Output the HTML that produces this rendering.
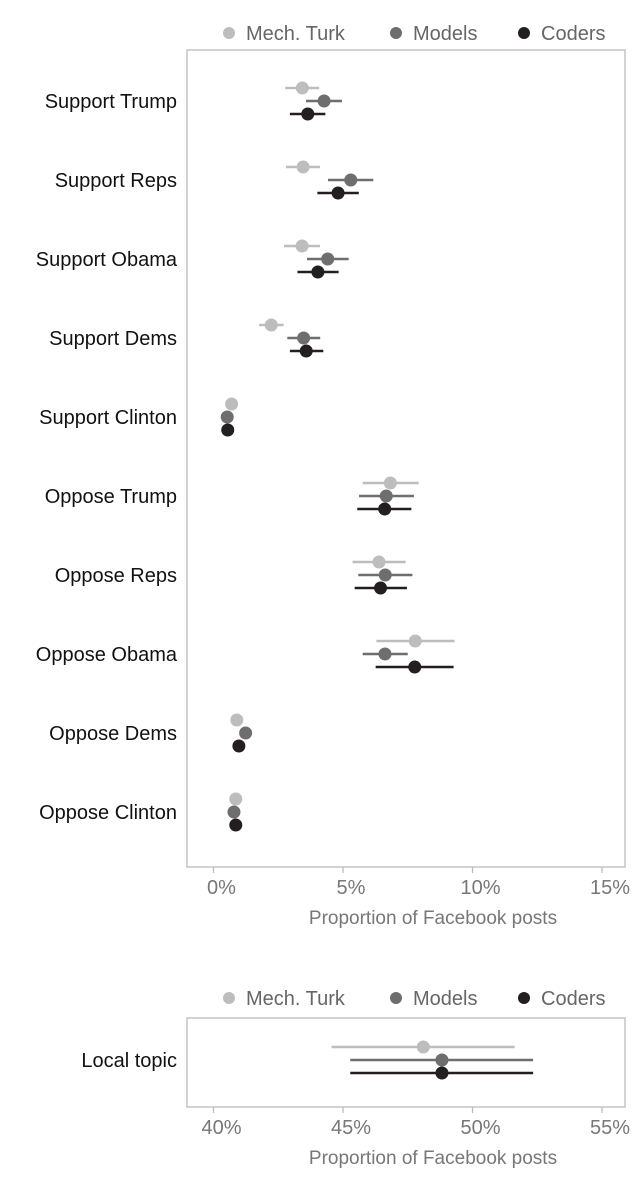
<!DOCTYPE html>
<html><head><meta charset="utf-8"><style>
html,body{margin:0;padding:0;background:#fff;}
svg text{font-family:"Liberation Sans",sans-serif;}
</style></head><body>
<svg id="svg" width="640" height="1182" viewBox="0 0 640 1182" xmlns="http://www.w3.org/2000/svg"></svg>
<script>
const categories=["Support Trump","Support Reps","Support Obama","Support Dems","Support Clinton","Oppose Trump","Oppose Reps","Oppose Obama","Oppose Dems","Oppose Clinton"];
const seriesNames=["Mech. Turk","Models","Coders"];
const turkVal=[3.43,3.46,3.42,2.23,0.70,6.83,6.39,7.79,0.90,0.86];
const turkLo=[2.77,2.80,2.72,1.76,0.70,5.76,5.37,6.29,0.90,0.86];
const turkHi=[4.08,4.11,4.11,2.71,0.70,7.92,7.42,9.31,0.90,0.86];
const modelVal=[4.27,5.30,4.41,3.48,0.53,6.67,6.63,6.62,1.24,0.79];
const modelLo=[3.57,4.42,3.61,2.85,0.53,5.62,5.59,5.76,1.24,0.79];
const modelHi=[4.96,6.17,5.22,4.12,0.53,7.74,7.68,7.50,1.24,0.79];
const coderVal=[3.64,4.81,4.03,3.58,0.55,6.61,6.45,7.77,0.98,0.86];
const coderLo=[2.95,4.01,3.24,2.95,0.55,5.55,5.45,6.26,0.98,0.86];
const coderHi=[4.32,5.61,4.83,4.24,0.55,7.64,7.47,9.27,0.98,0.86];
const ticks1=[0,5,10,15];
const localCat=["Local topic"];
const localVal=[48.1,48.82,48.82];
const localLo=[44.56,45.28,45.28];
const localHi=[51.63,52.34,52.34];
const ticks2=[40,45,50,55];

const colors=["#bdbdbd","#6e6e6e","#231f20"];
const NS="http://www.w3.org/2000/svg";
const svg=document.getElementById('svg');
function el(t,a,p){const e=document.createElementNS(NS,t);for(const k in a)e.setAttribute(k,a[k]);(p||svg).appendChild(e);return e;}
const PX=25.9;
function x1(v){return 213.5+PX*v;}
function x2(v){return 213.5+PX*(v-40);}

function legend(y,tag){
  const g=el('g',{});
  
  
  const dx=[229,396,524];
  seriesNames.forEach((n,i)=>{
    const c=el('circle',{cx:dx[i],cy:y,r:6,fill:colors[i]},g);
    
    
    const t=el('text',{x:dx[i]+17,y:y+7,'font-size':20,fill:'#666'},g);
    t.textContent=n;
    
    
  });
}
function frame(top,bottom,ticks,xf,tag){
  const r=el('rect',{x:187,y:top,width:438,height:bottom-top,fill:'none',stroke:'#bbb','stroke-width':1.3});
  
  
  ticks.forEach(t=>{
    const X=xf(t);
    const l=el('line',{x1:X,x2:X,y1:bottom,y2:bottom+6,stroke:'#bbb','stroke-width':1.3});
    
    
    const tx=el('text',{x:X+8,y:bottom+27,'font-size':20,fill:'#777','text-anchor':'middle'});
    tx.textContent=t+'%';
    
    
  });
  const ti=el('text',{x:433,y:bottom+57,'font-size':19,fill:'#777','text-anchor':'middle'});
  ti.textContent='Proportion of Facebook posts';
  
  
}
function mark(xf,v,lo,hi,y,i){
  if(hi-lo>0.01){
    const l=el('line',{x1:xf(lo),x2:xf(hi),y1:y,y2:y,stroke:colors[i],'stroke-width':2.5});
    
    
  }
  const c=el('circle',{cx:xf(v),cy:y,r:6.5,fill:colors[i]});
  
  
}
legend(33,'legend-top');
frame(50,867,ticks1,x1,'main');
const vals=[turkVal,modelVal,coderVal],los=[turkLo,modelLo,coderLo],his=[turkHi,modelHi,coderHi];
categories.forEach((c,k)=>{
  const yc=101+79*k;
  const t=el('text',{x:177,y:yc+7,'font-size':20,fill:'#111','text-anchor':'end'});
  t.textContent=c;
  
  
  for(let i=0;i<3;i++) mark(x1,vals[i][k],los[i][k],his[i][k],yc-13+13*i,i);
});
legend(998,'legend-bottom');
frame(1018,1107,ticks2,x2,'local');
const lt=el('text',{x:177,y:1067,'font-size':20,fill:'#111','text-anchor':'end'});
lt.textContent=localCat[0];


for(let i=0;i<3;i++) mark(x2,localVal[i],localLo[i],localHi[i],1047+13*i,i);
</script>
</body></html>
